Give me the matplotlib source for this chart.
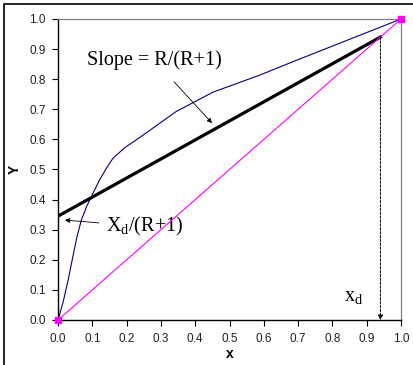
import numpy as np
import matplotlib.pyplot as plt
from matplotlib.patches import Rectangle

# equilibrium curve
x_eq = [0.0, 0.015, 0.03, 0.045, 0.055, 0.068, 0.083, 0.102, 0.121, 0.141, 0.16, 0.194, 0.243,
        0.292, 0.345, 0.452, 0.589, 0.7, 0.8, 0.9, 1.0]
y_eq = [0.0, 0.06, 0.135, 0.22, 0.275, 0.332, 0.376, 0.421, 0.465, 0.504, 0.537, 0.572, 0.61,
        0.65, 0.693, 0.757, 0.814, 0.865, 0.91, 0.955, 1.0]

# diagonal and operating line
x_diag = [0.0, 1.0]
y_diag = [0.0, 1.0]
xd = 0.94
intercept = 0.345
x_op = [0.0, xd]
y_op = [intercept, xd]

ticks = [0.0, 0.1, 0.2, 0.3, 0.4, 0.5, 0.6, 0.7, 0.8, 0.9, 1.0]
tick_labels = ['%.1f' % t for t in ticks]

fig = plt.figure(figsize=(4.14, 3.65), dpi=100)
ax = fig.add_axes([58/414, 45/365, 343/414, 301/365])

# outer frame of the picture
fig.patches.append(Rectangle((4/414, -0.1), 1.2, (361/365) + 0.1, transform=fig.transFigure,
                             fill=False, edgecolor='black', lw=1.2))

ax.plot(x_eq, y_eq, color='#000080', lw=0.8)
ax.plot(x_diag, y_diag, color='magenta', lw=0.8, marker='s', markersize=4, clip_on=False, zorder=5)
ax.plot(x_op, y_op, color='black', lw=2.3)

# dashed drop line at xd
ax.annotate('', xy=(xd, 0.0), xytext=(xd, xd),
            arrowprops=dict(arrowstyle='-|>', ls=(0, (2.5, 1.5)), lw=0.7, color='black',
                            mutation_scale=7, shrinkA=0, shrinkB=0))

serif = 'Liberation Serif'
ax.annotate('Slope = R/(R+1)', xy=(0.449, 0.654), xytext=(0.28, 0.864),
            fontsize=14.5, family=serif, ha='center', va='center',
            arrowprops=dict(arrowstyle='-|>', lw=0.6, color='black', mutation_scale=7,
                            shrinkA=9, shrinkB=0))
ax.annotate('X$_{\\mathregular{d}}$/(R+1)', xy=(0.02, 0.332), xytext=(0.14, 0.31),
            fontsize=14.5, family=serif, ha='left', va='center',
            arrowprops=dict(arrowstyle='-|>', lw=0.6, color='black', mutation_scale=7,
                            shrinkA=3, shrinkB=0))
ax.text(0.863, 0.075, 'x$_{\\mathregular{d}}$', fontsize=14.5, family=serif, ha='center', va='center')

ax.set_xlim(0, 1)
ax.set_ylim(0, 1)
ax.set_xticks(ticks)
ax.set_yticks(ticks)
ax.set_xticklabels(tick_labels, fontsize=8.5, family='Liberation Sans')
ax.set_yticklabels(tick_labels, fontsize=8.5, family='Liberation Sans')
ax.tick_params(direction='out', length=4, width=0.8, pad=5, labelcolor='#202020')
ax.set_xlabel('x', fontsize=10, fontweight='bold', family='Liberation Sans', labelpad=2)
ax.set_ylabel('Y', fontsize=10, fontweight='bold', family='Liberation Sans', labelpad=5)

for s in ['top', 'right']:
    ax.spines[s].set_color('#808080')
    ax.spines[s].set_linewidth(0.9)
for s in ['left', 'bottom']:
    ax.spines[s].set_linewidth(1.0)

fig.savefig('out.png', dpi=100)
